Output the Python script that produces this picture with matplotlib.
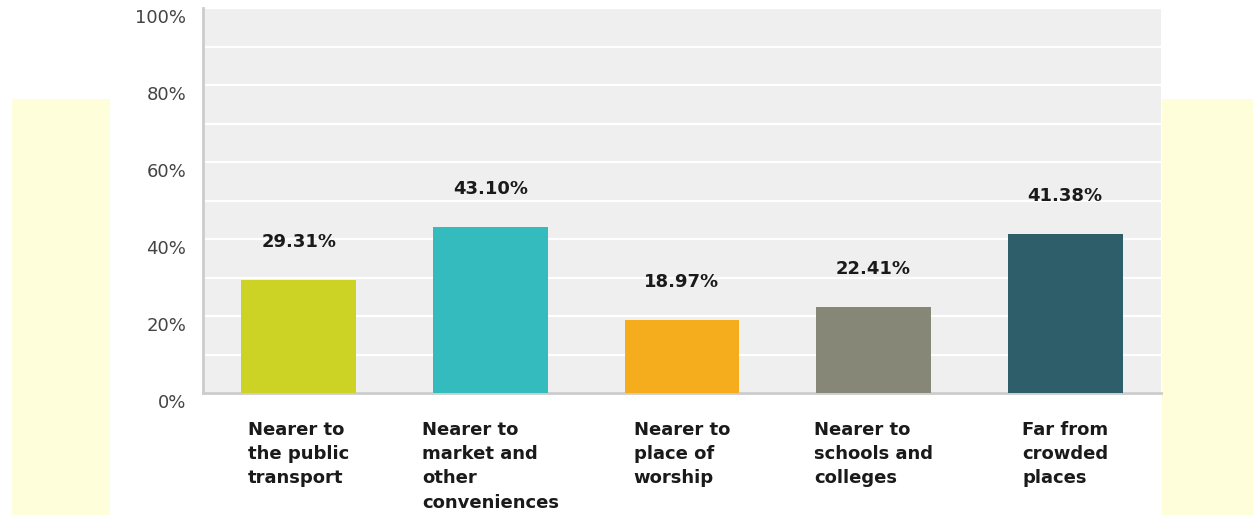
import matplotlib
matplotlib.use('Agg')
import matplotlib.pyplot as plt
from matplotlib.patches import Rectangle
from matplotlib.transforms import ScaledTranslation

categories = ["Nearer to\nthe public\ntransport",
              "Nearer to\nmarket and\nother\nconveniences",
              "Nearer to\nplace of\nworship",
              "Nearer to\nschools and\ncolleges",
              "Far from\ncrowded\nplaces"]
shares = [29.31, 43.10, 18.97, 22.41, 41.38]
bar_colors = ["#cdd325", "#33bbbe", "#f5ad1e", "#878777", "#2d5e6a"]
y_ticks = [0, 20, 40, 60, 80, 100]

W, H = 1253, 515
fig = plt.figure(figsize=(W / 100, H / 100), dpi=100)
fig.patch.set_facecolor("white")

# pale yellow side panels behind the chart
for x0, x1 in [(12, 110), (1162, 1253)]:
    fig.patches.append(Rectangle((x0 / W, 0), (x1 - x0) / W, (H - 99) / H,
                                 transform=fig.transFigure, facecolor="#fefedb",
                                 edgecolor="none", zorder=0))

ax = fig.add_axes([203 / W, (H - 393) / H, 958 / W, 385 / H])
ax.set_facecolor("#efefef")
ax.set_zorder(1)

x = range(len(categories))
ax.bar(x, shares, width=0.6, color=bar_colors, zorder=3)
for i, v in zip(x, shares):
    ax.annotate("%.2f%%" % v, (i, v), xytext=(0, 38), textcoords="offset pixels",
                ha="center", va="center", fontsize=13, fontweight="bold",
                color="#1a1a1a", zorder=4)

ax.set_xlim(-0.5, len(categories) - 0.5)
ax.set_ylim(0, 100)
ax.set_yticks(y_ticks)
ax.set_yticks(range(10, 100, 20), minor=True)
ax.set_yticklabels(["%d%%" % t for t in y_ticks], fontsize=13, color="#444444")
ax.grid(axis="y", which="both", color="white", linewidth=1.6, zorder=1)
ax.tick_params(axis="y", which="both", length=0, pad=12)

ax.set_xticks(list(x))
ax.set_xticklabels(categories, fontsize=13, fontweight="bold", color="#1a1a1a",
                   multialignment="left", linespacing=1.45)
ax.tick_params(axis="x", length=0, pad=20)

for lbl in ax.get_yticklabels():
    lbl.set_transform(lbl.get_transform() + ScaledTranslation(0, -0.08, fig.dpi_scale_trans))

for side in ["top", "right"]:
    ax.spines[side].set_visible(False)
for side in ["left", "bottom"]:
    ax.spines[side].set_color("#cccccc")
    ax.spines[side].set_linewidth(2)

fig.savefig("out.png", dpi=100)
